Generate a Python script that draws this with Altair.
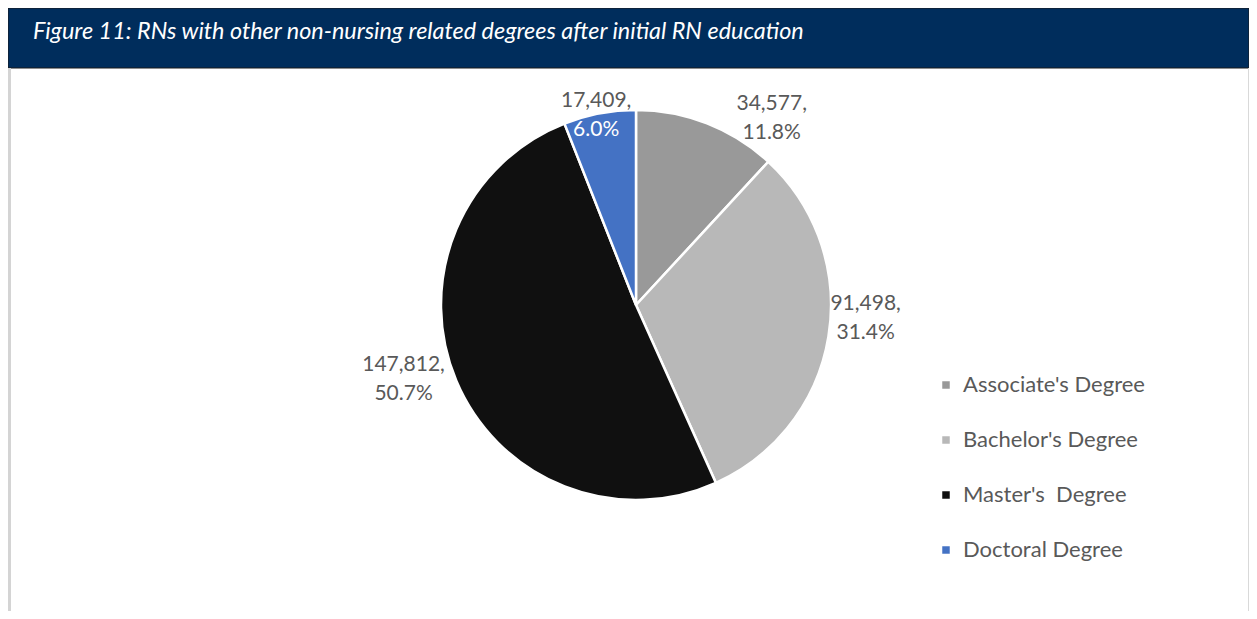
import altair as alt
import pandas as pd

# ---- data ----
title_text = "Figure 11: RNs with other non-nursing related degrees after initial RN education"
categories = ["Associate's Degree", "Bachelor's Degree", "Master's\u00a0 Degree", "Doctoral Degree"]
values = [34577, 91498, 147812, 17409]
pct_labels = ["11.8%", "31.4%", "50.7%", "6.0%"]

# ---- styles ----
slice_colors = ["#999999", "#b8b8b8", "#101010", "#4472C4"]
TEXT_GREY = "#595959"
NAVY = "#002D5C"
FONT = "Lato"

# label layout (Excel "best fit"): angular shift from slice middle (radians), distance from centre (px)
label_shift = [0.255, -0.105, 0.09, -0.019]
label_radius = [231, 230, 244, 194]

W, H = 1241, 603
CX, CY, R = 628, 297, 195

df = pd.DataFrame({"category": categories, "value": values, "pct": pct_labels,
                   "idx": list(range(len(categories)))})
title_df = pd.DataFrame({"t": [title_text]})

header = alt.Chart(title_df).mark_rect(color=NAVY, stroke="#1a1a1a", strokeWidth=1).encode(
    x=alt.value(0), x2=alt.value(W), y=alt.value(0), y2=alt.value(60)
)
title_mark = alt.Chart(title_df).mark_text(
    align="left", baseline="alphabetic", font=FONT, fontStyle="italic", fontSize=23.4, color="white"
).encode(x=alt.value(25), y=alt.value(31), text="t:N")

left_rule = alt.Chart(title_df).mark_rule(color="#d4d4d4", strokeWidth=3).encode(
    x=alt.value(1.5), y=alt.value(60), y2=alt.value(H)
)
right_rule = alt.Chart(title_df).mark_rule(color="#d9d9d9", strokeWidth=1).encode(
    x=alt.value(W - 0.5), y=alt.value(60), y2=alt.value(H)
)

base = alt.Chart(df)

arc = base.mark_arc(radius=R, stroke="white", strokeWidth=2.5).encode(
    x=alt.value(CX), y=alt.value(CY),
    theta=alt.Theta("value:Q", stack=True),
    color=alt.Color(
        "category:N",
        scale=alt.Scale(domain=categories, range=slice_colors),
        sort=categories,
        legend=alt.Legend(
            title=None, orient="none", legendX=927, legendY=366,
            symbolType="square", symbolSize=56, symbolStrokeWidth=0,
            labelFont=FONT, labelFontSize=22, labelColor=TEXT_GREY,
            labelOffset=6, rowPadding=33, padding=0, labelLimit=400,
        ),
    ),
    order=alt.Order("idx:Q"),
)

lab = base.transform_window(
    cum="sum(value)", sort=[alt.SortField("idx")], frame=[None, 0]
).transform_joinaggregate(total="sum(value)").transform_calculate(
    ang=f"2*PI*(datum.cum - datum.value/2)/datum.total + {label_shift}[datum.idx]",
    r=f"{label_radius}[datum.idx]",
    vtxt="format(datum.value, ',') + ','",
)

val_text = lab.mark_text(font=FONT, fontSize=21, color=TEXT_GREY, dy=-14.5).encode(
    x=alt.value(CX), y=alt.value(CY),
    theta=alt.Theta("ang:Q", scale=None, stack=False),
    radius=alt.Radius("r:Q", scale=None),
    text="vtxt:N",
)
pct_text = lab.mark_text(font=FONT, fontSize=21, dy=14.5).encode(
    x=alt.value(CX), y=alt.value(CY),
    theta=alt.Theta("ang:Q", scale=None, stack=False),
    radius=alt.Radius("r:Q", scale=None),
    text="pct:N",
    color=alt.condition("datum.idx == 3", alt.value("white"), alt.value(TEXT_GREY)),
)

chart = alt.layer(header, title_mark, left_rule, right_rule, arc, val_text, pct_text).properties(
    width=W, height=H, padding=0, autosize="none"
).configure_view(stroke=None)

chart.save("out.html", embed_options={"renderer": "svg", "actions": False})
